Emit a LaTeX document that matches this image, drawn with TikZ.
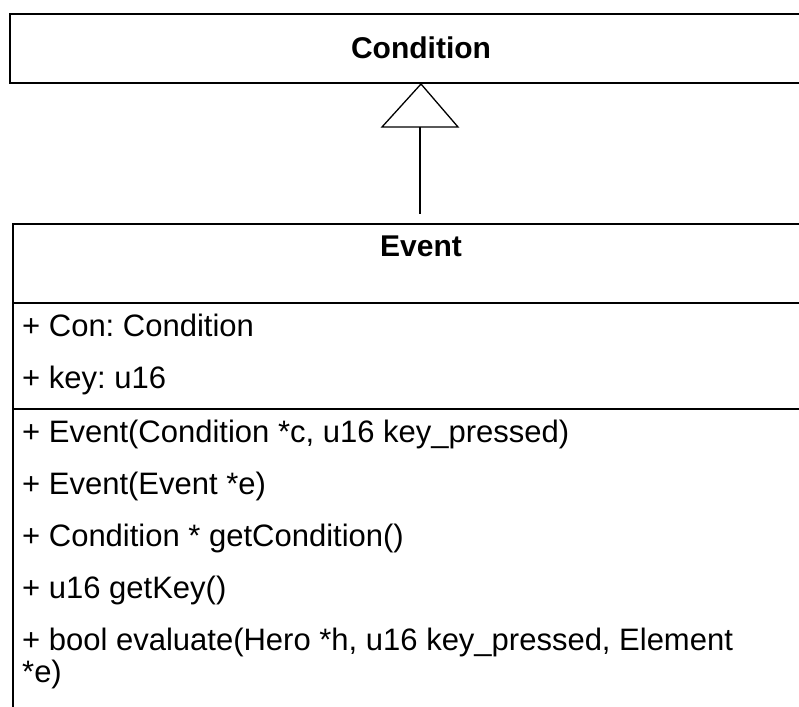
\documentclass[tikz,border=0pt]{standalone}
\usepackage{fontspec}
\setmainfont{Liberation Sans}
\frenchspacing
\begin{document}
\begin{tikzpicture}[x=1pt,y=-1pt,
  box/.style={draw=black,line width=2pt},
  member/.style={anchor=base west,inner sep=0pt,font=\fontsize{31}{36}\selectfont},
  title/.style={anchor=base,inner sep=0pt,font=\fontsize{30}{36}\selectfont\bfseries},
  link/.style={draw=black,line width=1.3pt}]
\useasboundingbox (0,0) rectangle (799,706);
\clip (0,0) rectangle (799,706);

% superclass box (runs past the right edge)
\draw[box] (830,14) -- (9.5,14) -- (9.5,83) -- (830,83);
\node[title] (cond) at (421,59) {Condition};

% subclass box with its compartments (open at right and bottom)
\draw[box] (830,224) -- (13,224) -- (13,720);
\draw[box] (13,303) -- (830,303);
\draw[box] (13,409) -- (830,409);
\node[title] (evt) at (421,256) {Event};

% generalization: hollow triangle and stem
\coordinate (apex) at (421,84);
\coordinate (bl) at (382,127);
\coordinate (br) at (458,127);
\coordinate (stemtop) at (420,127);
\coordinate (stembot) at (420,214);
\draw[link,fill=white,line join=miter] (apex) -- (br) -- (bl) -- cycle;
\draw[link] (stemtop) -- (stembot);

% attributes
\node[member] (a1) at (22,336) {+ Con: Condition};
\node[member] (a2) at (22,388) {+ key: u16};

% operations
\node[member] (m1) at (22,442) {+ Event(Condition *c, u16 key\_pressed)};
\node[member] (m2) at (22,494) {+ Event(Event *e)};
\node[member] (m3) at (22,546) {+ Condition * getCondition()};
\node[member] (m4) at (22,598) {+ u16 getKey()};
\node[member] (m5) at (22,650) {+ bool evaluate(Hero *h, u16 key\_pressed, Element};
\node[member] (m6) at (22,682) {*e)};
\end{tikzpicture}
\end{document}
